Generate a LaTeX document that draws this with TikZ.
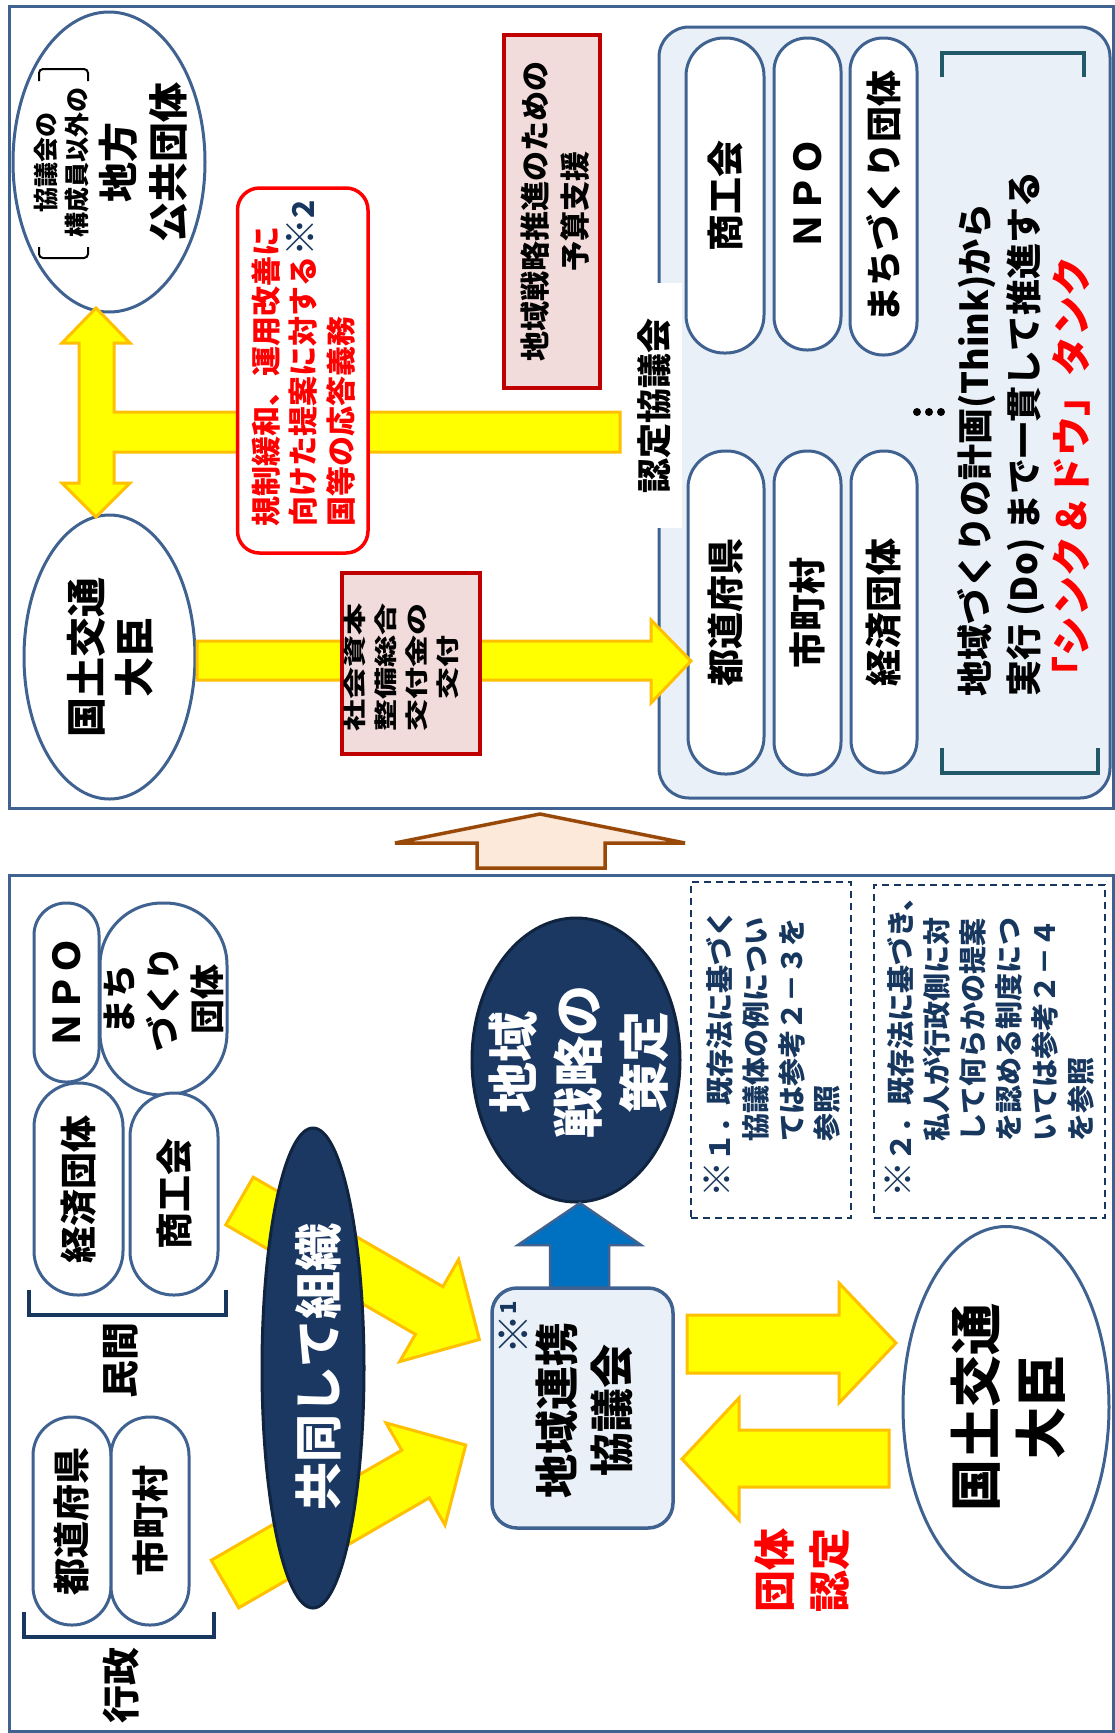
\documentclass[tikz,border=0pt]{standalone}
\usepackage{fontspec}
\usepackage{graphicx}
\setmainfont{Noto Sans CJK JP}
\usetikzlibrary{shapes.geometric}
\definecolor{frameblue}{HTML}{3F6290}
\definecolor{agold}{HTML}{FFC000}
\definecolor{ayellow}{HTML}{FFFF00}
\definecolor{pinkfill}{HTML}{F2DCDB}
\definecolor{darkred}{HTML}{C00000}
\definecolor{boxfill}{HTML}{EAF0F7}
\definecolor{navyfill}{HTML}{1A3862}
\definecolor{navyline}{HTML}{10243F}
\definecolor{textnavy}{HTML}{17375E}
\definecolor{brteal}{HTML}{215968}
\definecolor{peach}{HTML}{FDE9D9}
\definecolor{arrbrown}{HTML}{984807}
\definecolor{ablue}{HTML}{0070C0}
\newcommand{\fsz}[2]{\fontsize{#1}{#2}\selectfont}
\newcommand{\bfs}[2]{\bfseries\fontsize{#1}{#2}\selectfont}
\newcommand{\kome}[1]{{\fontsize{#1}{10}\selectfont ※}}
\begin{document}
\begin{tikzpicture}[x=1pt,y=-1pt,
  tx/.style={rotate=90, inner sep=0pt},
  frame/.style={draw=frameblue, line width=3pt, inner sep=0pt},
  yarr/.style={fill=ayellow, draw=agold, line width=3pt, line join=miter},
  pill/.style={draw=frameblue, fill=white, line width=3pt, rotate=90, inner sep=0pt, font=\bfs{37}{40}},
  oval/.style={ellipse, draw=frameblue, fill=white, line width=3pt, inner sep=0pt},
  pinkbox/.style={rectangle, fill=pinkfill, draw=darkred, line width=4pt, inner sep=0pt},
  dbox/.style={rectangle, draw=textnavy, dash pattern=on 7pt off 5pt, line width=1.8pt, inner sep=0pt},
  dot/.style={circle, fill=black, inner sep=0pt, minimum size=8pt},
]
\useasboundingbox (0,0) rectangle (1115,1733);
\fill[white] (0,0) rectangle (1115,1733);

%================ TOP SECTION =================
% container
\node[rectangle, rounded corners=30pt, fill=boxfill, draw=frameblue, line width=3pt, inner sep=0pt,
      minimum width=451pt, minimum height=771pt] (cont) at (884.5,412.5) {};
\node[rectangle, fill=white, inner sep=0pt, minimum width=41pt, minimum height=245pt] (lblbg) at (661.5,405.5) {};
\node[tx, font=\bfs{35}{40}] (lblt) at (654,406) {認定協議会};

% left ellipses
\node[oval, minimum width=192pt, minimum height=300pt] (e1) at (109,162) {};
\node[tx, font=\bfs{25}{31}, align=center] (e1small) at (61.5,162) {協議会の\\構成員以外の};
\draw[line width=2pt, black, rounded corners=4pt] (39,81) -- (39,69) -- (88,69) -- (88,81);
\draw[line width=2pt, black, rounded corners=4pt] (39,247) -- (39,258) -- (88,258) -- (88,247);
\node[tx, font=\bfs{40}{50}, align=center] (e1big) at (143,162) {地方\\公共団体};

\node[oval, minimum width=171pt, minimum height=284pt] (e2) at (109.5,657) {};
\node[tx, font=\bfs{40}{48}, align=center] (e2t) at (110,657) {国土交通\\大臣};

% T-shaped double arrow
\draw[yarr] (96,308) -- (130,343) -- (114,343) -- (114,412) -- (620,412) -- (620,452) -- (114,452)
  -- (114,483) -- (130,483) -- (96,517) -- (62,483) -- (79,483) -- (79,343) -- (62,343) -- cycle;

% red rounded box
\node[rectangle, rounded corners=22pt, draw=red, fill=white, line width=3.5pt, inner sep=0pt,
      minimum width=130.5pt, minimum height=365pt] (rb) at (302.75,370.5) {};
\node[tx, font=\bfs{30}{37.5}, align=left, anchor=west, text=red] (rbt) at (303.5,527)
  {規制緩和、運用改善に\\向けた提案に対する{\color{textnavy}\kome{38}2}\\国等の応答義務};

% budget box
\node[pinkbox, minimum width=96pt, minimum height=353pt] (pb1) at (552,211.5) {};
\node[tx, font=\bfs{30}{40}, align=center] (pb1t) at (555,211) {地域戦略推進のための\\予算支援};

% pills
\node[pill, minimum width=315pt, minimum height=78pt, rounded corners=38pt] (p1) at (725,195.5) {商工会};
\node[pill, minimum width=312pt, minimum height=67pt, rounded corners=33pt] (p2) at (807.5,194) {ＮＰＯ};
\node[pill, minimum width=317pt, minimum height=67pt, rounded corners=33pt, font=\bfs{36}{40}] (p3) at (883.5,196.5) {まちづくり団体};
\node[pill, minimum width=323pt, minimum height=76pt, rounded corners=37pt] (p4) at (726,612.5) {都道府県};
\node[pill, minimum width=324pt, minimum height=67pt, rounded corners=33pt] (p5) at (807.5,613) {市町村};
\node[pill, minimum width=322pt, minimum height=66pt, rounded corners=32.5pt] (p6) at (884,612) {経済団体};

% dots
\node[dot] (dt1) at (917,412) {};
\node[dot] (dt2) at (929,412) {};
\node[dot] (dt3) at (941,412) {};

% bracket + think text
\draw[brteal, line width=3.5pt] (942,77) -- (942,53) -- (1084,53) -- (1084,77);
\draw[brteal, line width=3.5pt] (942,748) -- (942,773) -- (1098,773) -- (1098,748);
\node[tx, font=\bfs{36}{49}, align=left, anchor=west] (think) at (1024,697)
  {地域づくりの計画(Think)から\\実行 (Do) まで一貫して推進する\\{\color{red}\fsz{40}{49}「シンク＆ドウ」タンク}};

% horizontal arrow to pills
\draw[yarr] (197,641) -- (651,641) -- (651,620) -- (691,661) -- (651,703) -- (651,680) -- (197,680) -- cycle;
\node[pinkbox, minimum width=138pt, minimum height=181pt] (pb2) at (411,663.5) {};
\node[tx] (pb2t) at (404,667) {\scalebox{1}[0.72]{\bfs{32}{43}\begin{tabular}{@{}c@{}}社会資本\\整備総合\\交付金の\\交付\end{tabular}}};

% frame top
\node[frame, minimum width=1104pt, minimum height=802pt] (topframe) at (561,407) {};

% big up arrow
\draw[fill=peach, draw=arrbrown, line width=3.5pt, line join=miter]
  (540,814) -- (685,843) -- (605,843) -- (605,868) -- (477,868) -- (477,843) -- (395,843) -- cycle;

%================ BOTTOM SECTION =================
\node[pill, minimum width=179pt, minimum height=65pt, rounded corners=32pt] (q1) at (66.5,992.5) {ＮＰＯ};
\node[pill, minimum width=192pt, minimum height=127pt, rounded corners=62pt, font=\bfs{35}{44}, align=center] (q2) at (163.5,999) {まち\\づくり\\団体};
\node[pill, minimum width=212pt, minimum height=89pt, rounded corners=44pt] (q3) at (78.5,1189) {経済団体};
\node[pill, minimum width=202pt, minimum height=88pt, rounded corners=43.5pt] (q4) at (174,1194) {商工会};
\node[pill, minimum width=208pt, minimum height=78pt, rounded corners=38.5pt] (q5) at (72,1521) {都道府県};
\node[pill, minimum width=208pt, minimum height=78pt, rounded corners=38.5pt] (q6) at (150,1521) {市町村};

\draw[textnavy, line width=3.5pt] (29,1290) -- (29,1315) -- (226,1315) -- (226,1290);
\draw[textnavy, line width=3.5pt] (24,1612) -- (24,1637) -- (214,1637) -- (214,1612);
\node[tx, font=\bfs{38}{44}] (minkan) at (121,1360) {民間};
\node[tx, font=\bfs{38}{44}] (gyosei) at (121,1685) {行政};

% diagonal arrows
\begin{scope}[shift={(225,1584)}, rotate=30]
  \draw[yarr] (0,-27.5) -- (220,-27.5) -- (220,-59) -- (278,0) -- (220,59) -- (220,27.5) -- (0,27.5) -- cycle;
\end{scope}
\begin{scope}[shift={(239.5,1201)}, rotate=-30]
  \draw[yarr] (0,-27.5) -- (219,-27.5) -- (219,-59) -- (277,0) -- (219,59) -- (219,27.5) -- (0,27.5) -- cycle;
\end{scope}

\node[ellipse, fill=navyfill, draw=navyline, line width=3pt, inner sep=0pt, minimum width=102pt, minimum height=480pt] (kyodo) at (313,1368) {};
\node[tx, font=\bfs{48}{56}, text=white] (kyodot) at (318,1367) {共同して組織};

\node[ellipse, fill=navyfill, draw=navyline, line width=3pt, inner sep=0pt, minimum width=208pt, minimum height=284pt] (senryaku) at (576,1060) {};
\node[tx, font=\bfs{51}{65.5}, align=center, text=white] (senryakut) at (578.5,1062) {地域\\戦略の\\策定};

\draw[fill=ablue, draw=frameblue, line width=2.5pt, line join=miter]
  (580,1203) -- (641,1245) -- (609,1245) -- (609,1289) -- (550,1289) -- (550,1245) -- (518,1245) -- cycle;

\node[rectangle, rounded corners=25pt, fill=boxfill, draw=frameblue, line width=3.5pt, inner sep=0pt,
      minimum width=181pt, minimum height=240pt] (kyogi) at (582.5,1408) {};
\node[tx, font=\bfs{30}{34}, text=textnavy] (kyogim) at (514,1328) {\kome{40}\raisebox{0.4em}{\fsz{22}{22}1}};
\node[tx, font=\bfs{44}{55}, align=center] (kyogit) at (584.5,1410) {地域連携\\協議会};

\draw[yarr] (687,1315) -- (839,1315) -- (839,1283) -- (896,1343) -- (839,1403) -- (839,1373) -- (687,1373) -- cycle;
\draw[yarr] (889,1430) -- (739,1430) -- (739,1398) -- (682,1459) -- (739,1520) -- (739,1487) -- (889,1487) -- cycle;
\node[tx, font=\bfs{42}{55}, align=center, text=red] (nintei) at (802.5,1570) {団体\\認定};

\node[dbox, minimum width=160pt, minimum height=336pt] (d1) at (771,1050) {};
\node[tx, font=\bfs{28}{35.7}, align=left, anchor=west, text=textnavy] (d1t) at (772.5,1198)
  {\kome{36}１．既存法に基づく\\\hspace*{2em}協議体の例につい\\\hspace*{2em}ては参考２－３を\\\hspace*{2em}参照};
\node[dbox, minimum width=231pt, minimum height=333pt] (d2) at (989.5,1051.5) {};
\node[tx, font=\bfs{28}{36}, align=left, anchor=west, text=textnavy] (d2t) at (990,1198)
  {\kome{36}２．既存法に基づき、\\\hspace*{2em}私人が行政側に対\\\hspace*{2em}して何らかの提案\\\hspace*{2em}を認める制度につ\\\hspace*{2em}いては参考２－４\\\hspace*{2em}を参照};

\node[oval, minimum width=206pt, minimum height=361pt] (e3) at (1006,1407) {};
\node[tx, font=\bfs{52}{65}, align=center] (e3t) at (1008.5,1407) {国土交通\\大臣};

\node[frame, minimum width=1104pt, minimum height=856pt] (botframe) at (561,1303) {};
\end{tikzpicture}
\end{document}
